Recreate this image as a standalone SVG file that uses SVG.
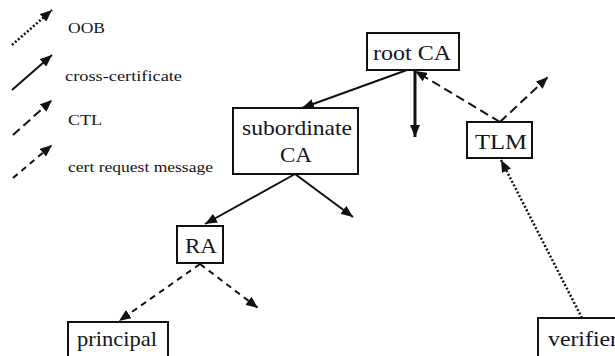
<svg xmlns="http://www.w3.org/2000/svg" width="615" height="356" viewBox="0 0 615 356">
<style>
.lg{font-size:15px;fill:#141420}
.nd{font-size:21px;fill:#141420}
.box{fill:#fff;stroke:#111;stroke-width:2}
.c{fill:none;stroke:#111;stroke-width:2}
.ctl{stroke-dasharray:9 5}
.req{stroke-dasharray:6 5}
.oob{stroke-dasharray:2 2;stroke-width:2.5}
.thick{stroke-width:3}
</style>
<defs>
<marker id="ah" markerUnits="userSpaceOnUse" markerWidth="12" markerHeight="10" refX="12" refY="5" orient="auto">
<path d="M0,0 L12,5 L0,10 z" fill="#111"/>
</marker>
</defs>
<g id="legend" font-family="Times New Roman, Liberation Serif, Tinos, DejaVu Serif, serif">
<line class="c oob" x1="12" y1="45" x2="52" y2="10" marker-end="url(#ah)"/>
<text class="lg" x="68" y="33" textLength="37" lengthAdjust="spacingAndGlyphs">OOB</text>
<line class="c" x1="12" y1="90" x2="52" y2="55" marker-end="url(#ah)"/>
<text class="lg" x="65" y="81" textLength="117" lengthAdjust="spacingAndGlyphs">cross-certificate</text>
<line class="c ctl" x1="13" y1="135" x2="52" y2="100" marker-end="url(#ah)"/>
<text class="lg" x="68" y="125" textLength="34" lengthAdjust="spacingAndGlyphs">CTL</text>
<line class="c req" x1="13" y1="178" x2="52" y2="145" marker-end="url(#ah)"/>
<text class="lg" x="68" y="172" textLength="145" lengthAdjust="spacingAndGlyphs">cert request message</text>
</g>
<g id="connectors">
<line class="c" x1="407" y1="70" x2="302" y2="108" marker-end="url(#ah)"/>
<line class="c thick" x1="415" y1="70" x2="415" y2="137" marker-end="url(#ah)"/>
<line class="c ctl" x1="500" y1="122" x2="415" y2="71" marker-end="url(#ah)"/>
<line class="c ctl" x1="500" y1="122" x2="548" y2="77" marker-end="url(#ah)"/>
<line class="c oob" x1="582" y1="318" x2="501" y2="160" marker-end="url(#ah)"/>
<line class="c" x1="295" y1="174" x2="205" y2="224" marker-end="url(#ah)"/>
<line class="c" x1="295" y1="174" x2="353" y2="217" marker-end="url(#ah)"/>
<line class="c req" x1="200" y1="264" x2="119" y2="321" marker-end="url(#ah)"/>
<line class="c req" x1="200" y1="264" x2="258" y2="308" marker-end="url(#ah)"/>
</g>
<g id="nodes" font-family="Times New Roman, Liberation Serif, Tinos, DejaVu Serif, serif">
<g id="rootCA">
<rect class="box" x="367" y="33" width="92" height="37"/>
<text class="nd" x="373" y="60" textLength="78" lengthAdjust="spacingAndGlyphs">root CA</text>
</g>
<g id="subCA">
<rect class="box" x="233" y="108" width="125" height="66"/>
<text class="nd" x="242" y="135" textLength="110" lengthAdjust="spacingAndGlyphs">subordinate</text>
<text class="nd" x="280" y="162" textLength="32" lengthAdjust="spacingAndGlyphs">CA</text>
</g>
<g id="TLM">
<rect class="box" x="467" y="122" width="65" height="36"/>
<text class="nd" x="475" y="149" textLength="52" lengthAdjust="spacingAndGlyphs">TLM</text>
</g>
<g id="RA">
<rect class="box" x="177" y="226" width="46" height="37"/>
<text class="nd" x="185" y="253" textLength="32" lengthAdjust="spacingAndGlyphs">RA</text>
</g>
<g id="principal">
<rect class="box" x="68" y="322" width="100" height="40"/>
<text class="nd" x="77" y="346" textLength="80" lengthAdjust="spacingAndGlyphs">principal</text>
</g>
<g id="verifier">
<rect class="box" x="538" y="318" width="82" height="44"/>
<text class="nd" x="548" y="346" textLength="70" lengthAdjust="spacingAndGlyphs">verifier</text>
</g>
</g>
</svg>
